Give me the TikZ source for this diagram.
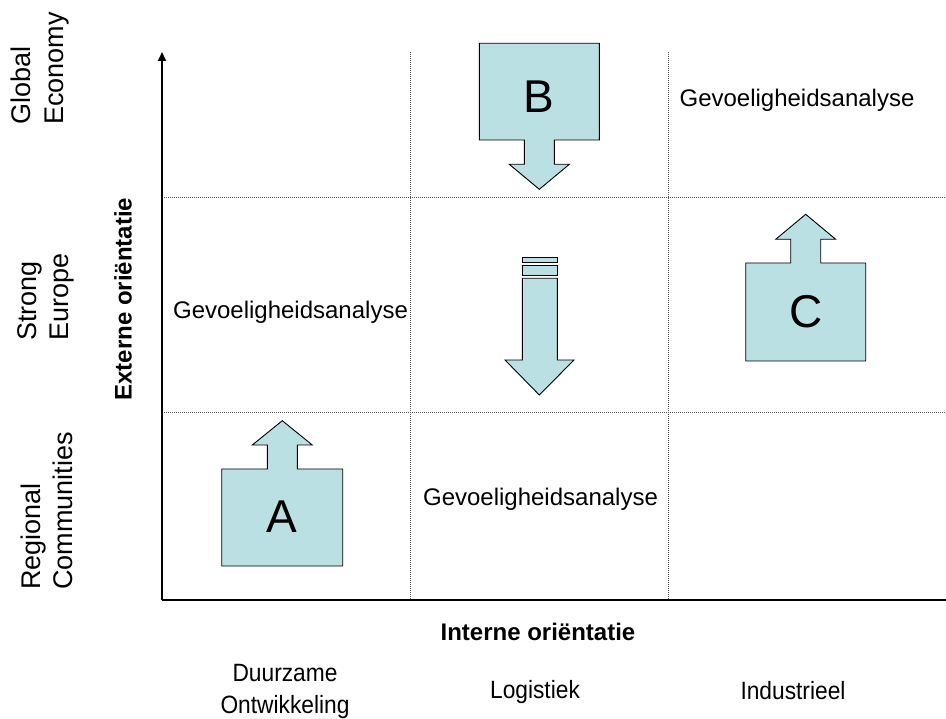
\documentclass[tikz,border=0pt]{standalone}
\usepackage{fontspec}
\setmainfont{Liberation Sans}
\usetikzlibrary{arrows.meta}
\definecolor{calloutfill}{HTML}{BBE0E3}
\definecolor{gridgray}{HTML}{555555}
\tikzset{
  callout/.style={draw=black, line width=0.9pt, fill=calloutfill, line join=miter},
  gridline/.style={draw=gridgray, line width=0.9pt, dash pattern=on 1pt off 1pt},
  axis/.style={draw=black, line width=1.8pt},
  celltext/.style={font=\fontsize{24}{28}\selectfont, inner sep=0pt},
  rowlabel/.style={font=\fontsize{27}{32.4}\selectfont, rotate=90, align=left, inner sep=0pt},
  collabel/.style={font=\fontsize{25}{32}\selectfont, align=center, inner sep=0pt, xscale=0.91},
  axislabel/.style={font=\bfseries\fontsize{24}{28}\selectfont, inner sep=0pt},
  letter/.style={font=\fontsize{46}{50}\selectfont, inner sep=0pt}
}
\begin{document}
\begin{tikzpicture}[x=1pt,y=-1pt]
\useasboundingbox (0,0) rectangle (946,719);
% coordinates
\coordinate (O) at (162,600);
\coordinate (Ytop) at (162,52);
\coordinate (Xend) at (946,600);
\coordinate (h1l) at (162,197.5);
\coordinate (h1r) at (946,197.5);
\coordinate (h2l) at (162,412);
\coordinate (h2r) at (946,412);
\coordinate (v1t) at (410.7,52);
\coordinate (v1b) at (410.7,600);
\coordinate (v2t) at (668.3,52);
\coordinate (v2b) at (668.3,600);
% grid
\draw[gridline] (h1l) -- (h1r);
\draw[gridline] (h2l) -- (h2r);
\draw[gridline] (v1t) -- (v1b);
\draw[gridline] (v2t) -- (v2b);
% axes
\draw[axis] (O) -- (Xend);
\draw[axis, -{Triangle[length=9pt,width=8pt]}] (O) -- (Ytop);
% callout A (up)
\draw[callout] (221.7,566) -- (221.7,469) -- (267.3,469) -- (267.3,445) -- (252.3,445)
  -- (282.3,420.7) -- (312.3,445) -- (297.3,445) -- (297.3,469) -- (342.7,469) -- (342.7,566) -- cycle;
\node[letter] (A) at (282.3,517) {A};
% callout B (down)
\draw[callout] (479.3,43.3) -- (599.3,43.3) -- (599.3,140) -- (554.3,140) -- (554.3,164.3) -- (569.3,164.3)
  -- (539.3,189.3) -- (509.3,164.3) -- (524.3,164.3) -- (524.3,140) -- (479.3,140) -- cycle;
\node[letter] (B) at (539.3,97) {B};
% callout C (up)
\draw[callout] (745.7,361) -- (745.7,263) -- (790.7,263) -- (790.7,239.3) -- (775.7,239.3)
  -- (805.7,214.3) -- (835.7,239.3) -- (820.7,239.3) -- (820.7,263) -- (865.7,263) -- (865.7,361) -- cycle;
\node[letter] (C) at (805.7,312) {C};
% striped arrow (down)
\draw[callout] (522.3,257.3) rectangle (557.3,262.3);
\draw[callout] (522.3,265.7) rectangle (557.3,275);
\draw[callout] (522.3,278.3) -- (557.3,278.3) -- (557.3,360) -- (574,360) -- (539.3,395)
  -- (505,360) -- (522.3,360) -- cycle;
% cell texts
\node[celltext] (g1) at (797,100) {Gevoeligheidsanalyse};
\node[celltext] (g2) at (290.5,312) {Gevoeligheidsanalyse};
\node[celltext] (g3) at (540.5,499) {Gevoeligheidsanalyse};
% row labels
\node[rowlabel] (r1) at (40,68.5) {Global\\Economy};
\node[rowlabel] (r2) at (46,297) {Strong\\Europe};
\node[rowlabel] (r3) at (47,511) {Regional\\Communities};
% axis labels
\node[axislabel, rotate=90] (ext) at (123,299) {Externe oriëntatie};
\node[axislabel] (int) at (538,632) {Interne oriëntatie};
% column labels
\node[collabel] (c1) at (285,691) {Duurzame\\Ontwikkeling};
\node[collabel] (c2) at (535,692) {Logistiek};
\node[collabel] (c3) at (793,691) {Industrieel};
\end{tikzpicture}
\end{document}
